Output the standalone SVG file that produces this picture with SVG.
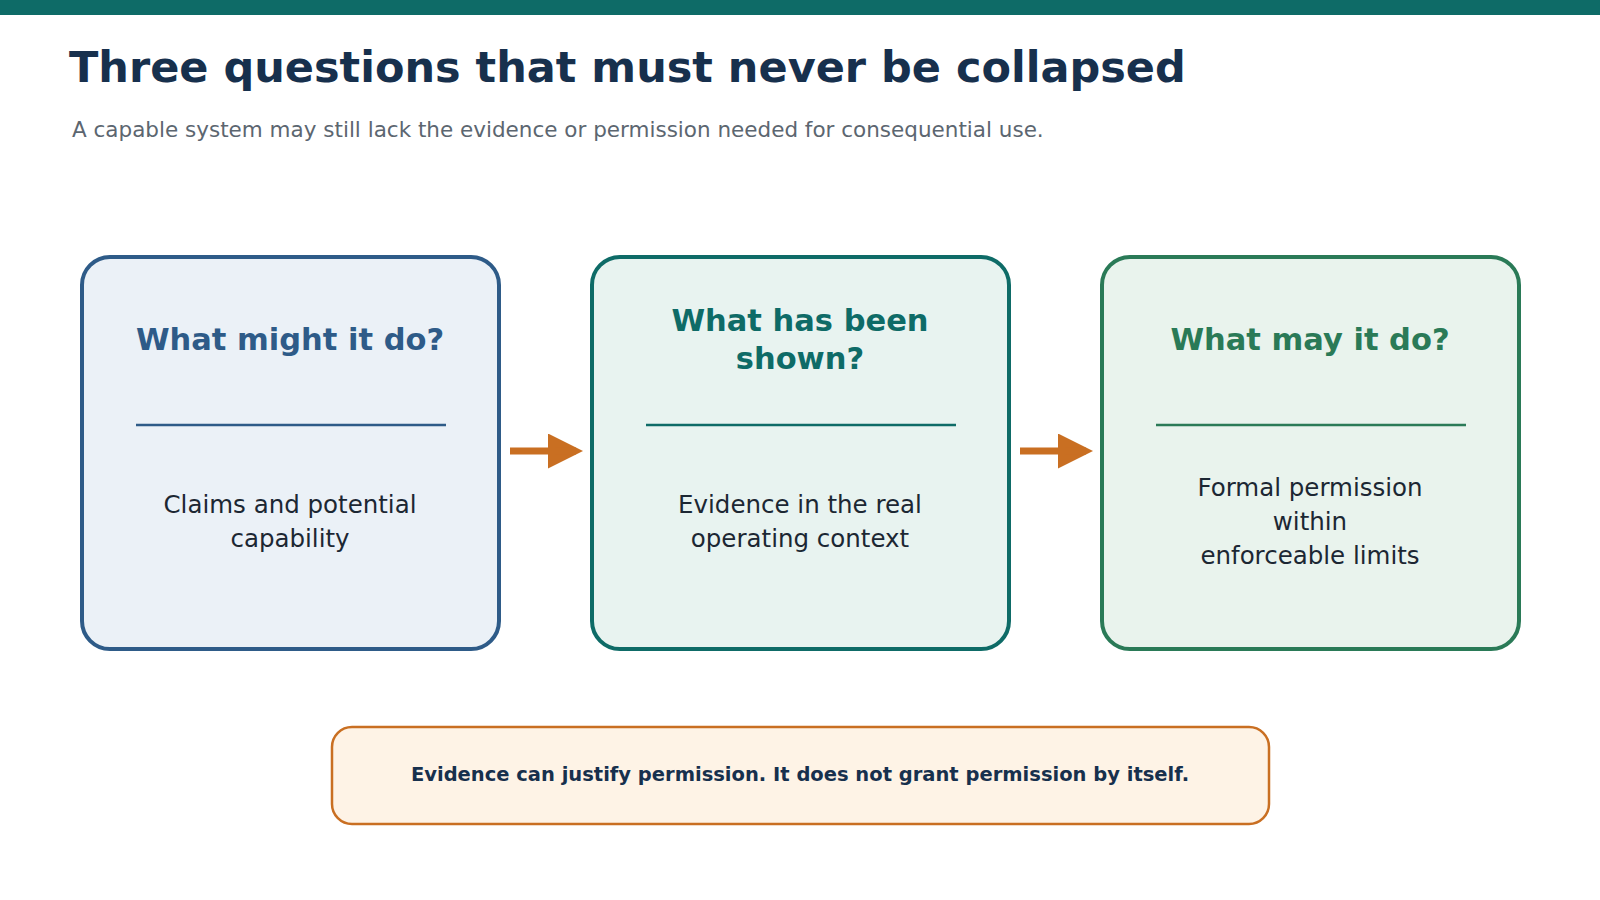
<svg xmlns="http://www.w3.org/2000/svg" width="1600" height="900" viewBox="0 0 1600 900">
<style>
text{font-family:"DejaVu Sans",sans-serif}
.h{font-weight:bold;font-size:30.5px;text-anchor:middle}
.b{font-size:24.5px;fill:#1c2733;text-anchor:middle}
.box{stroke-width:4}
</style>
<defs><marker id="ar" markerWidth="5" markerHeight="5" refX="1" refY="2.5" orient="auto" markerUnits="strokeWidth"><path d="M0,0L5,2.5L0,5z" fill="#c96f22"/></marker></defs>
<rect width="1600" height="900" fill="#fff"/>
<rect width="1600" height="15" fill="#0e6b67"/>
<text x="69" y="82" font-size="43" font-weight="bold" fill="#17304d">Three questions that must never be collapsed</text>
<text x="72" y="137" font-size="21.5" fill="#5c6670">A capable system may still lack the evidence or permission needed for consequential use.</text>
<g id="n1"><rect class="box" x="82" y="257" width="417" height="392" rx="28" fill="#ebf1f7" stroke="#2e5b88"/>
<text class="h" x="290" y="350" fill="#2e5b88">What might it do?</text>
<line x1="136" y1="425" x2="446" y2="425" stroke="#2e5b88" stroke-width="2.5"/>
<text class="b" x="290" y="513">Claims and potential</text><text class="b" x="290" y="547">capability</text></g>
<g id="n2"><rect class="box" x="592" y="257" width="417" height="392" rx="28" fill="#e8f3f0" stroke="#0e6b67"/>
<text class="h" x="800" y="331" fill="#0e6b67">What has been</text><text class="h" x="800" y="369" fill="#0e6b67">shown?</text>
<line x1="646" y1="425" x2="956" y2="425" stroke="#0e6b67" stroke-width="2.5"/>
<text class="b" x="800" y="513">Evidence in the real</text><text class="b" x="800" y="547">operating context</text></g>
<g id="n3"><rect class="box" x="1102" y="257" width="417" height="392" rx="28" fill="#e9f3ed" stroke="#2a7a57"/>
<text class="h" x="1310" y="350" fill="#2a7a57">What may it do?</text>
<line x1="1156" y1="425" x2="1466" y2="425" stroke="#2a7a57" stroke-width="2.5"/>
<text class="b" x="1310" y="496">Formal permission</text><text class="b" x="1310" y="530">within</text><text class="b" x="1310" y="564">enforceable limits</text></g>
<g id="connectors" stroke="#c96f22" stroke-width="7">
<line x1="510" y1="451" x2="555" y2="451" marker-end="url(#ar)"/>
<line x1="1020" y1="451" x2="1065" y2="451" marker-end="url(#ar)"/>
<line x1="555" y1="451" x2="576" y2="451"/><line x1="1065" y1="451" x2="1086" y2="451"/>
</g>
<g id="note"><rect x="332" y="727" width="937" height="97" rx="20" fill="#fef3e6" stroke="#c96f22" stroke-width="2.5"/>
<text x="800" y="781" font-size="19.5" font-weight="bold" fill="#17304d" text-anchor="middle">Evidence can justify permission. It does not grant permission by itself.</text></g>
</svg>
